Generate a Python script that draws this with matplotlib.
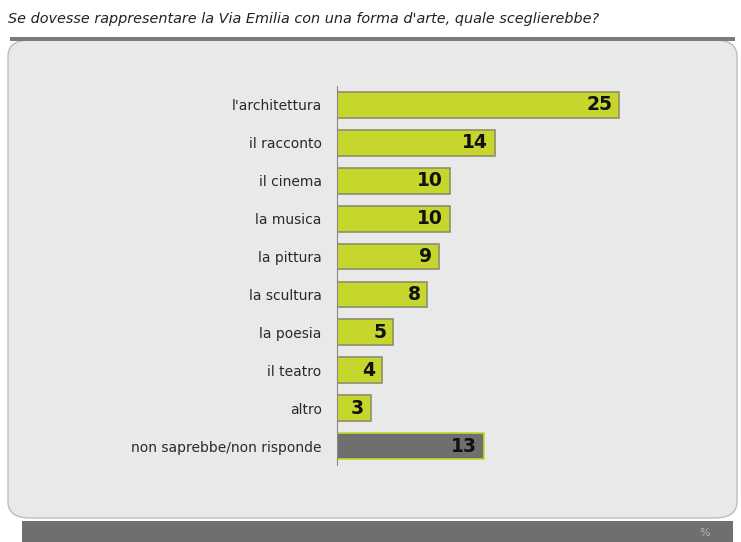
import matplotlib
matplotlib.use('Agg')
import matplotlib.pyplot as plt
from matplotlib.patches import FancyBboxPatch, Rectangle

# data
categories = ["l'architettura", 'il racconto', 'il cinema', 'la musica',
              'la pittura', 'la scultura', 'la poesia', 'il teatro',
              'altro', 'non saprebbe/non risponde']
values = [25, 14, 10, 10, 9, 8, 5, 4, 3, 13]
title = "Se dovesse rappresentare la Via Emilia con una forma d'arte, quale sceglierebbe?"

W, H = 741, 542
fig = plt.figure(figsize=(W / 100, H / 100), dpi=100)
fig.patch.set_facecolor('white')

# rounded light panel
panel = FancyBboxPatch((8 / W, 24 / H), 729 / W, 478 / H,
                       boxstyle='round,pad=0,rounding_size=0.03',
                       transform=fig.transFigure, facecolor='#e9e9e9',
                       edgecolor='#bdbdbd', linewidth=1, zorder=0)
fig.patches.append(panel)
# thick grey line on top of panel
fig.patches.append(Rectangle((10 / W, (H - 41) / H), 725 / W, 4 / H,
                             transform=fig.transFigure, facecolor='#7a7a7a',
                             edgecolor='none', zorder=1))
# dark footer band
fig.patches.append(Rectangle((22 / W, 0), 711 / W, 21 / H,
                             transform=fig.transFigure, facecolor='#6f6f6f',
                             edgecolor='none', zorder=1))
fig.text(705 / W, 9 / H, '%', color='#b8b8b8', fontsize=8, va='center',
         ha='center')

fig.text(8 / W, (H - 19) / H, title, fontsize=10.4, style='italic',
         color='#222222', va='center', ha='left')

# axes placed in pixels
left, right, top, bottom = 337, 698, 86, 465
ax = fig.add_axes([left / W, (H - bottom) / H, (right - left) / W,
                   (bottom - top) / H])
ax.set_zorder(5)
ax.set_facecolor('none')

n = len(categories)
pos = list(range(n))
colors = ['#c6d62c'] * (n - 1) + ['#6f6f6f']
edges = ['#8c8f6a'] * (n - 1) + ['#c6d62c']
ax.barh(pos, values, height=0.68, color=colors, edgecolor=edges, linewidth=1.2)

for p, v in zip(pos, values):
    ax.text(v - 0.6, p, str(v), ha='right', va='center', fontsize=13.5,
            fontweight='bold', color='#111111')

ax.set_xlim(0, (right - left) / 11.28)
ax.set_ylim(n - 0.5, -0.5)
ax.set_yticks(pos)
ax.set_yticklabels(categories, fontsize=10, color='#2a2a2a')
ax.tick_params(axis='y', length=0, pad=11)
ax.set_xticks([])
for s in ['top', 'right', 'bottom']:
    ax.spines[s].set_visible(False)
ax.spines['left'].set_color('#8a8a8a')

fig.savefig('out.png', dpi=100)
